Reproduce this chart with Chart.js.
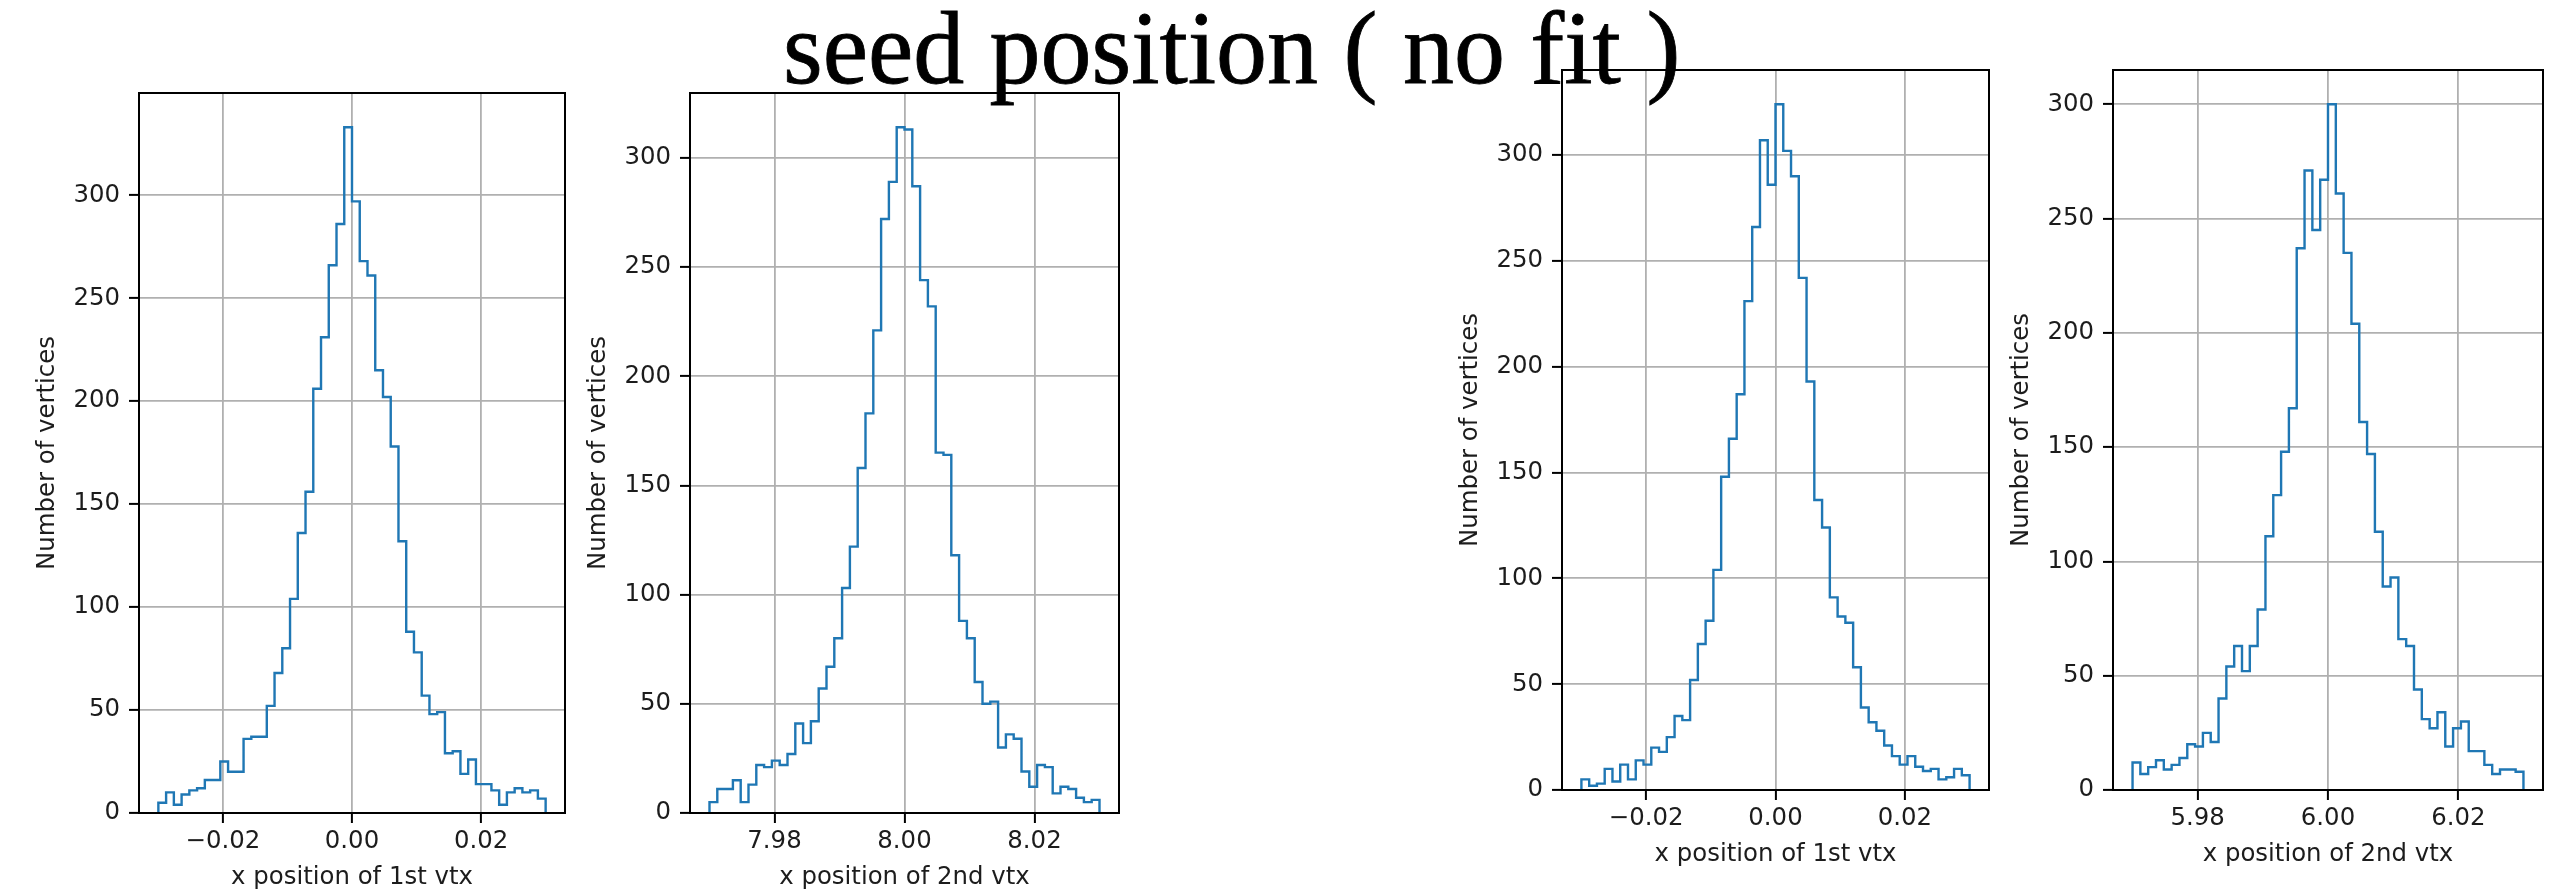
<!DOCTYPE html>
<html>
<head>
<meta charset="utf-8">
<script src="https://cdn.jsdelivr.net/npm/chart.js@4.4.1/dist/chart.umd.min.js"></script>
<style>
  html, body { margin: 0; padding: 0; background: #ffffff; width: 2561px; height: 894px; overflow: hidden; }
  canvas { position: absolute; }
  #title {
    position: absolute; left: 783px; top: -4px; z-index: 5;
    font-family: 'Liberation Serif', 'Times New Roman', serif;
    font-size: 104px; line-height: 1; color: #000; white-space: nowrap;
    -webkit-text-stroke: 0.8px #000;
    transform: scaleX(0.98); transform-origin: 0 0;
  }
</style>
</head>
<body>
<canvas id="c1"></canvas>
<canvas id="c2"></canvas>
<canvas id="c3"></canvas>
<canvas id="c4"></canvas>
<div id="title">seed position ( no fit )</div>
<script>
// ---------------- data ----------------
const figureTitle = 'seed position ( no fit )';
const yTitle = 'Number of vertices';

// histogram ranges (50 equal bins between lo and hi)
const range1 = [-0.03, 0.03];
const range2 = [7.97, 8.03];
const range3 = [-0.03, 0.03];
const range4 = [5.97, 6.03];

const counts1 = [5, 10, 4, 9, 11, 12, 16, 16, 25, 20, 20, 36, 37, 37, 52, 68, 80, 104, 136, 156,
                 206, 231, 266, 286, 333, 297, 268, 261, 215, 202, 178, 132, 88, 78, 57, 48, 49, 29, 30, 19,
                 26, 14, 14, 11, 4, 10, 12, 10, 11, 7];
const counts2 = [5, 11, 11, 15, 5, 13, 22, 21, 24, 22, 27, 41, 32, 42, 57, 67, 80, 103, 122, 158,
                 183, 221, 272, 289, 314, 313, 287, 244, 232, 165, 164, 118, 88, 80, 60, 50, 51, 30, 36, 34,
                 19, 12, 22, 21, 9, 12, 11, 7, 5, 6];
const counts3 = [5, 2, 3, 10, 4, 12, 5, 14, 12, 20, 18, 25, 35, 33, 52, 69, 80, 104, 148, 166,
                 187, 231, 266, 307, 286, 324, 302, 290, 242, 193, 137, 124, 91, 82, 79, 58, 39, 32, 28, 21,
                 16, 12, 16, 11, 9, 10, 5, 6, 10, 7];
const counts4 = [12, 7, 10, 13, 9, 11, 14, 20, 19, 25, 21, 40, 54, 63, 52, 63, 79, 111, 129, 148,
                 167, 237, 271, 245, 267, 300, 261, 235, 204, 161, 147, 113, 89, 93, 66, 63, 44, 31, 27, 34,
                 19, 27, 30, 17, 17, 11, 7, 9, 9, 8];

const xTicks1 = [-0.02, 0.00, 0.02];
const xTicks2 = [7.98, 8.00, 8.02];
const xTicks3 = [-0.02, 0.00, 0.02];
const xTicks4 = [5.98, 6.00, 6.02];
const yTickStep = 50;

const xTitle1 = 'x position of 1st vtx';
const xTitle2 = 'x position of 2nd vtx';
const xTitle3 = 'x position of 1st vtx';
const xTitle4 = 'x position of 2nd vtx';

// ---------------- layout (plot-area boxes in page pixels) ----------------
const boxes = [
  { left: 139, top: 93, w: 426, h: 720 },
  { left: 690, top: 93, w: 429, h: 720 },
  { left: 1562, top: 70, w: 427, h: 720 },
  { left: 2113, top: 70, w: 430, h: 720 }
];
const Y_AXIS_W = 130, PAD_TOP = 30, PAD_RIGHT = 15, X_AXIS_H = 82;

const FONT = { family: "'DejaVu Sans', sans-serif", size: 24.4 };
const TEXT_COLOR = '#1c1c1c';
const LINE_COLOR = '#1f77b4';
const GRID_COLOR = '#b0b0b0';

function stepPoints(range, counts) {
  const lo = range[0], hi = range[1];
  const w = (hi - lo) / counts.length;
  const pts = [{ x: lo, y: 0 }];
  counts.forEach((c, i) => pts.push({ x: lo + i * w, y: c }));
  pts.push({ x: hi, y: 0 });
  return pts;
}

function fmtX(v) {
  return Number(v).toFixed(2).replace('-', '\u2212');
}

const spinePlugin = {
  id: 'spines',
  afterDatasetsDraw(chart) {
    const a = chart.chartArea, ctx = chart.ctx;
    ctx.save();
    ctx.strokeStyle = '#000';
    ctx.lineWidth = 2;
    ctx.strokeRect(a.left, a.top, a.right - a.left, a.bottom - a.top);
    ctx.restore();
  }
};

function makeChart(id, box, range, counts, xTicks, xTitle) {
  const cv = document.getElementById(id);
  cv.width = Y_AXIS_W + box.w + PAD_RIGHT;
  cv.height = PAD_TOP + box.h + X_AXIS_H;
  cv.style.left = (box.left - Y_AXIS_W) + 'px';
  cv.style.top = (box.top - PAD_TOP) + 'px';
  const span = range[1] - range[0];
  const yMax = Math.max(...counts) * 1.05;
  return new Chart(cv, {
    type: 'line',
    data: {
      datasets: [{
        data: stepPoints(range, counts),
        stepped: true,
        borderColor: LINE_COLOR,
        borderWidth: 2.4,
        pointRadius: 0,
        fill: false,
        tension: 0,
        borderJoinStyle: 'miter'
      }]
    },
    options: {
      responsive: false,
      animation: false,
      events: [],
      layout: { padding: { top: PAD_TOP, right: PAD_RIGHT, left: 0, bottom: 0 } },
      plugins: { legend: { display: false }, tooltip: { enabled: false }, title: { display: false } },
      scales: {
        x: {
          type: 'linear',
          min: range[0] - 0.05 * span,
          max: range[1] + 0.05 * span,
          afterBuildTicks: s => { s.ticks = xTicks.map(v => ({ value: v })); },
          afterFit: s => { s.height = X_AXIS_H; },
          ticks: { callback: v => fmtX(v), font: FONT, color: TEXT_COLOR, padding: 4, maxRotation: 0, autoSkip: false },
          grid: { color: GRID_COLOR, lineWidth: 1.8, tickLength: 10, tickColor: '#000', tickWidth: 2 },
          border: { display: false },
          title: { display: true, text: xTitle, font: FONT, color: TEXT_COLOR, padding: { top: 0, bottom: 3 } }
        },
        y: {
          type: 'linear',
          min: 0,
          max: yMax,
          afterBuildTicks: s => {
            const t = [];
            for (let v = 0; v <= yMax; v += yTickStep) t.push({ value: v });
            s.ticks = t;
          },
          afterFit: s => { s.width = Y_AXIS_W; },
          ticks: { font: FONT, color: TEXT_COLOR, padding: 9 },
          grid: { color: GRID_COLOR, lineWidth: 1.8, tickLength: 10, tickColor: '#000', tickWidth: 2 },
          border: { display: false },
          title: { display: true, text: yTitle, font: FONT, color: TEXT_COLOR, padding: { top: 24, bottom: 0 } }
        }
      }
    },
    plugins: [spinePlugin]
  });
}

document.getElementById('title').textContent = figureTitle;
makeChart('c1', boxes[0], range1, counts1, xTicks1, xTitle1);
makeChart('c2', boxes[1], range2, counts2, xTicks2, xTitle2);
makeChart('c3', boxes[2], range3, counts3, xTicks3, xTitle3);
makeChart('c4', boxes[3], range4, counts4, xTicks4, xTitle4);
</script>
</body>
</html>
